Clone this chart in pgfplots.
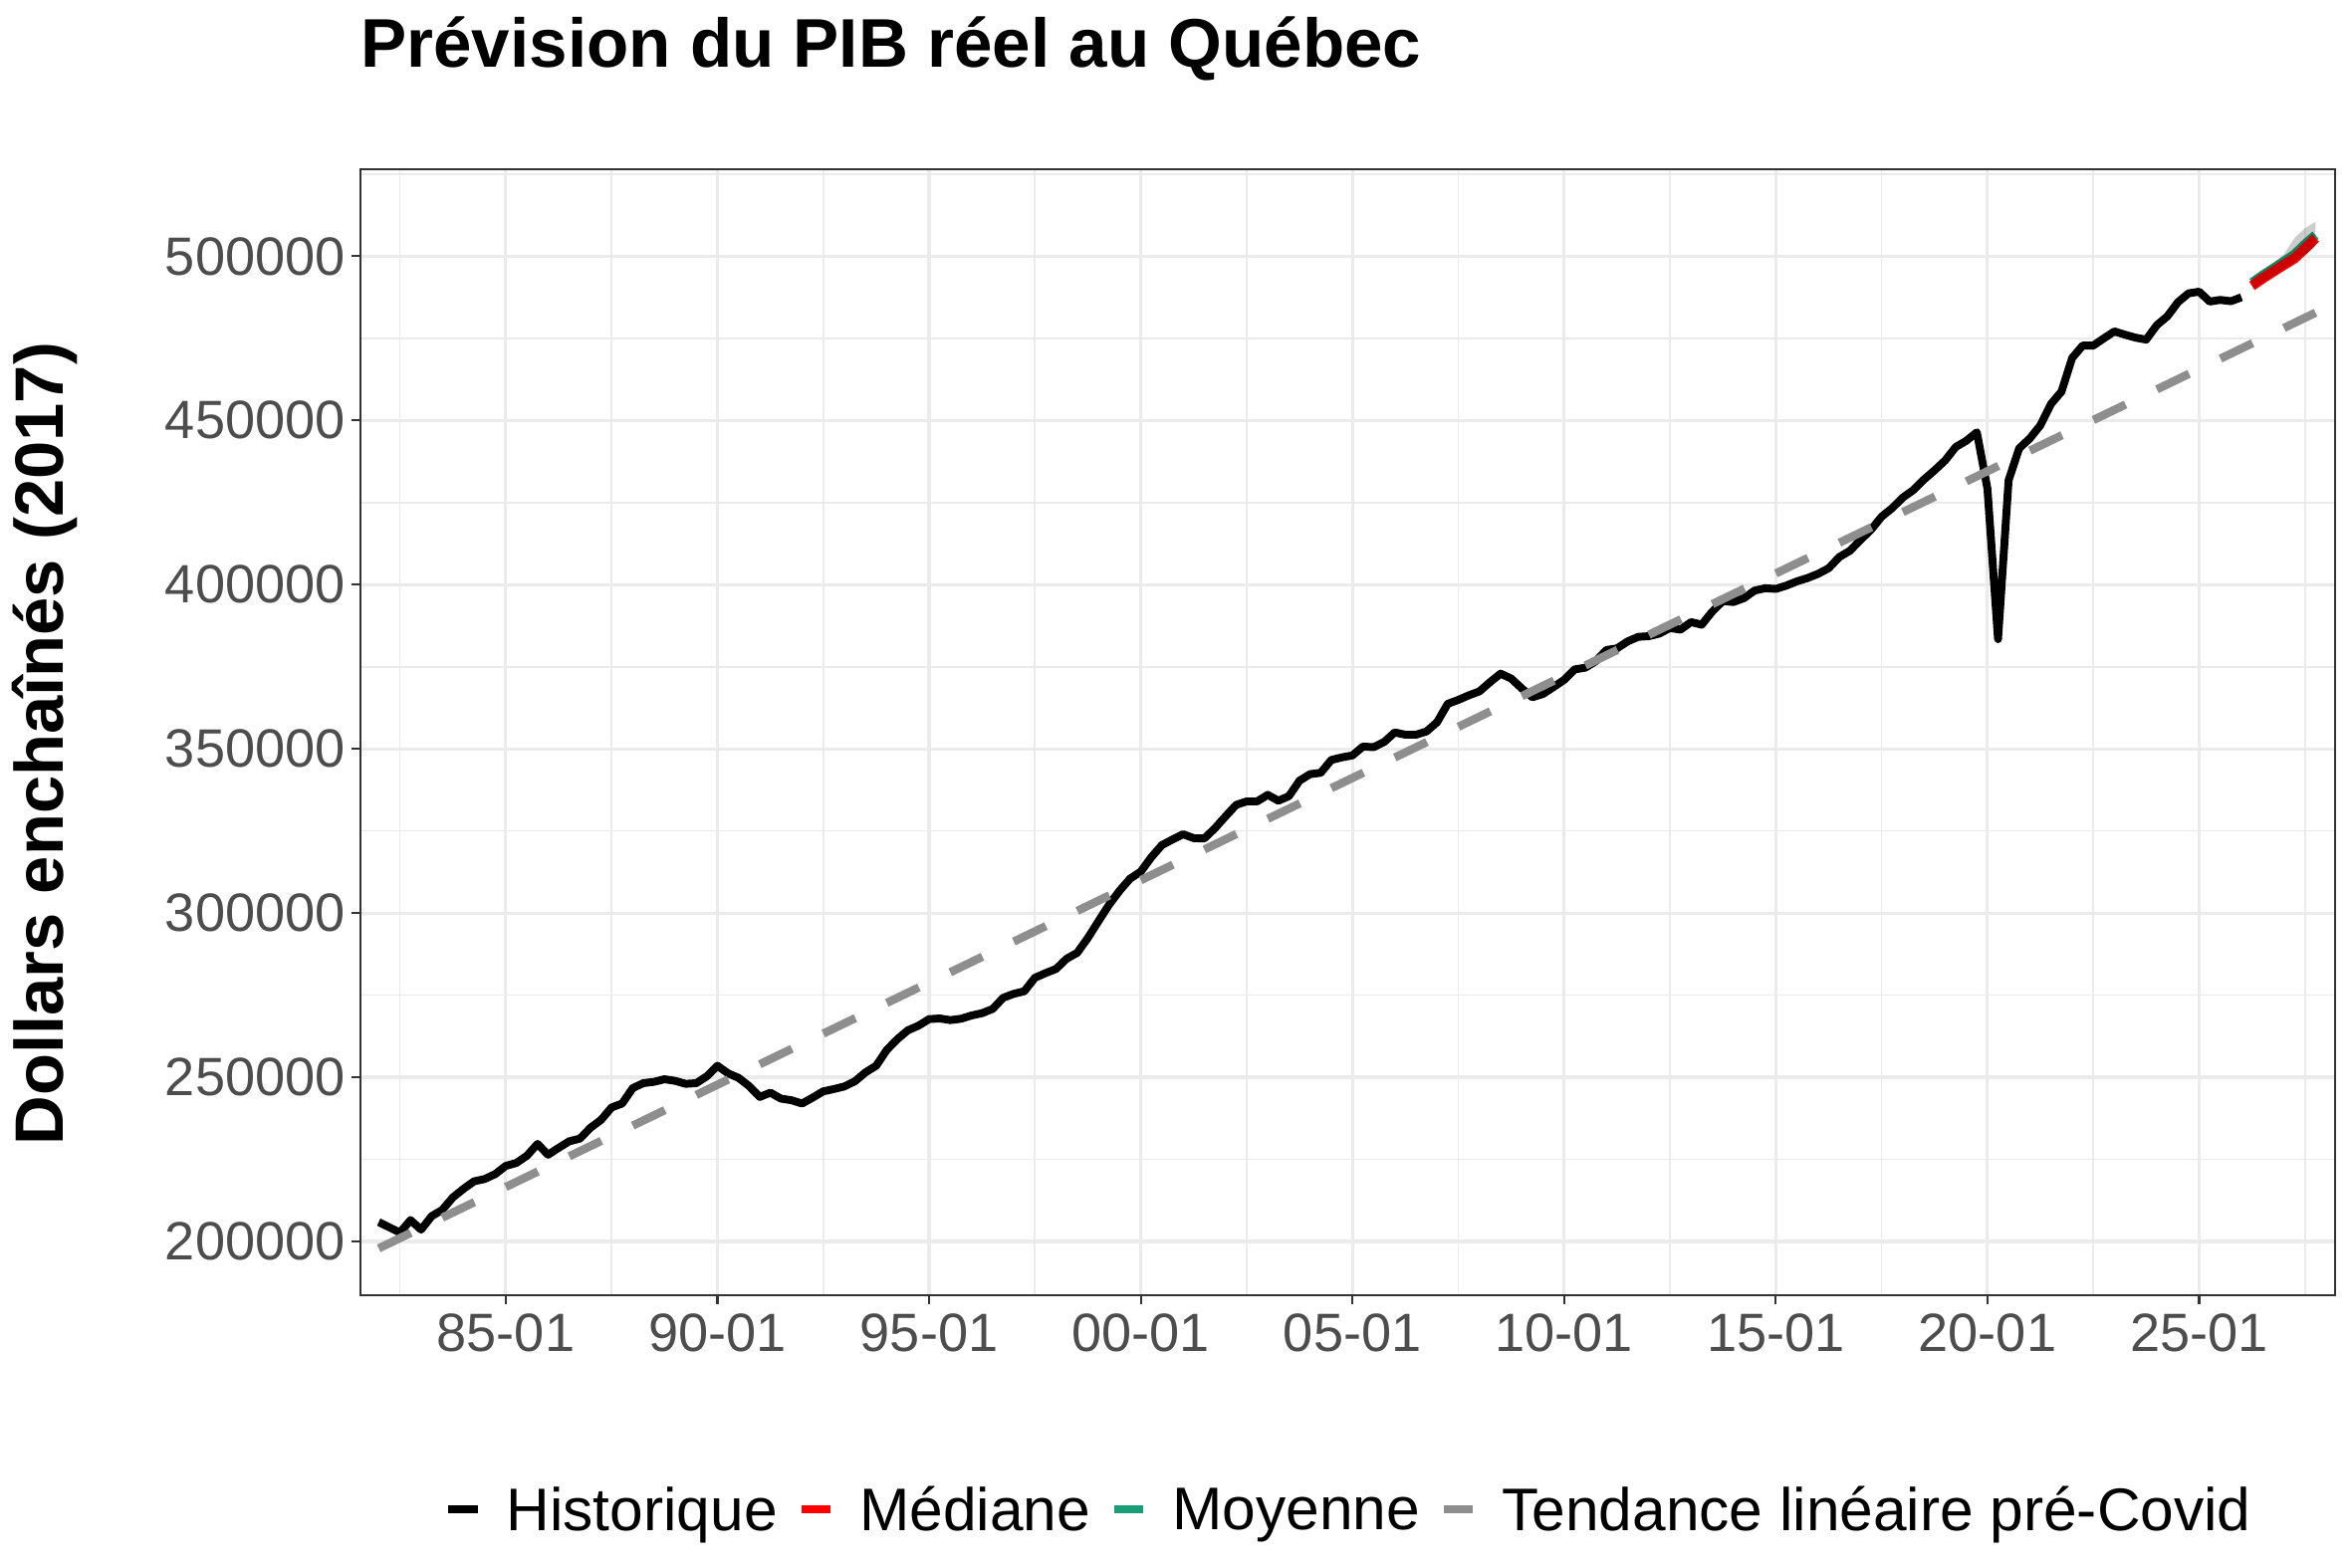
\documentclass[border=0pt]{standalone}
\usepackage{fontspec}
\setmainfont{Liberation Sans}
\usepackage{pgfplots}
\pgfplotsset{compat=1.18}
\definecolor{trendgray}{HTML}{8E8E8E}
\definecolor{gridgray}{HTML}{EBEBEB}
\definecolor{bordercol}{HTML}{333333}
\definecolor{ticktext}{HTML}{4D4D4D}
\definecolor{moygreen}{HTML}{1B9E77}
\definecolor{medred}{HTML}{FF0000}
\begin{document}
\begin{tikzpicture}
\useasboundingbox (-86.8pt,-65.6pt) rectangle (480.1pt,312.3pt);
\begin{axis}[
  at={(0pt,0pt)}, anchor=south west,
  scale only axis, width=476.1pt, height=271.5pt,
  xmin=1981.56, xmax=2028.22, ymin=183562, ymax=526484,
  scaled y ticks=false, scaled x ticks=false,
  xtick={1985,1990,1995,2000,2005,2010,2015,2020,2025},
  xticklabels={85-01,90-01,95-01,00-01,05-01,10-01,15-01,20-01,25-01},
  minor xtick={1982.5,1987.5,1992.5,1997.5,2002.5,2007.5,2012.5,2017.5,2022.5,2027.5},
  ytick={200000,250000,300000,350000,400000,450000,500000},
  yticklabels={200000,250000,300000,350000,400000,450000,500000},
  minor ytick={225000,275000,325000,375000,425000,475000,525000},
  grid=both,
  major grid style={gridgray, line width=0.75pt},
  minor grid style={gridgray, line width=0.4pt},
  axis line style={bordercol, line width=0.5pt},
  tick align=outside, major tick length=2pt, minor tick length=0pt,
  tick style={bordercol, line width=0.5pt},
  xtick pos=left, ytick pos=left,
  ticklabel style={font=\fontsize{13}{15}\selectfont, text=ticktext, inner sep=0pt},
  xticklabel style={anchor=north},
  yticklabel style={anchor=east},
  xticklabel shift=2.3pt, yticklabel shift=1.4pt,
  legend columns=-1,
  legend style={draw=none, fill=none, at={(0.5,-0.192)}, anchor=center,
    font=\fontsize{14.5}{17}\selectfont, nodes={inner sep=0pt},
    /tikz/every odd column/.append style={column sep=6pt},
    /tikz/every even column/.append style={column sep=4.8pt}},
  legend image code/.code={\draw[#1, line width=2pt, solid] (0pt,0.6pt) -- (7pt,0.6pt);},
]
\addlegendimage{black}\addlegendentry{Historique}
\addlegendimage{medred}\addlegendentry{Médiane}
\addlegendimage{moygreen}\addlegendentry{Moyenne}
\addlegendimage{trendgray}\addlegendentry{Tendance linéaire pré-Covid}

\addplot[black, line width=1.9pt, line join=round, forget plot] coordinates {
(1982.00,205900) (1982.25,204300) (1982.50,202700) (1982.75,206500)
(1983.00,203600) (1983.25,207700) (1983.50,209600) (1983.75,213400)
(1984.00,216000) (1984.25,218300) (1984.50,219000) (1984.75,220500)
(1985.00,223000) (1985.25,223900) (1985.50,226100) (1985.75,229700)
(1986.00,226400) (1986.25,228500) (1986.50,230500) (1986.75,231300)
(1987.00,234600) (1987.25,237000) (1987.50,240800) (1987.75,242000)
(1988.00,246700) (1988.25,248200) (1988.50,248600) (1988.75,249400)
(1989.00,248900) (1989.25,248000) (1989.50,248200) (1989.75,250300)
(1990.00,253500) (1990.25,251200) (1990.50,249800) (1990.75,247300)
(1991.00,244000) (1991.25,245300) (1991.50,243500) (1991.75,243000)
(1992.00,242000) (1992.25,243800) (1992.50,245700) (1992.75,246400)
(1993.00,247200) (1993.25,248800) (1993.50,251500) (1993.75,253500)
(1994.00,258300) (1994.25,261600) (1994.50,264300) (1994.75,265700)
(1995.00,267700) (1995.25,267900) (1995.50,267400) (1995.75,267800)
(1996.00,268800) (1996.25,269500) (1996.50,270800) (1996.75,274200)
(1997.00,275400) (1997.25,276200) (1997.50,280300) (1997.75,281700)
(1998.00,283000) (1998.25,286100) (1998.50,287900) (1998.75,292400)
(1999.00,297500) (1999.25,302500) (1999.50,306800) (1999.75,310500)
(2000.00,312600) (2000.25,317000) (2000.50,320700) (2000.75,322400)
(2001.00,324000) (2001.25,322800) (2001.50,322700) (2001.75,325800)
(2002.00,329400) (2002.25,332900) (2002.50,334000) (2002.75,334000)
(2003.00,336000) (2003.25,334200) (2003.50,335600) (2003.75,340300)
(2004.00,342300) (2004.25,342700) (2004.50,346600) (2004.75,347400)
(2005.00,348000) (2005.25,350700) (2005.50,350500) (2005.75,352100)
(2006.00,355000) (2006.25,354300) (2006.50,354300) (2006.75,355300)
(2007.00,358100) (2007.25,363700) (2007.50,364900) (2007.75,366300)
(2008.00,367500) (2008.25,370300) (2008.50,372900) (2008.75,371400)
(2009.00,368400) (2009.25,365700) (2009.50,366700) (2009.75,368800)
(2010.00,371000) (2010.25,374200) (2010.50,374700) (2010.75,376700)
(2011.00,380100) (2011.25,380600) (2011.50,382700) (2011.75,384100)
(2012.00,384300) (2012.25,385100) (2012.50,386800) (2012.75,386300)
(2013.00,388600) (2013.25,387800) (2013.50,391800) (2013.75,395000)
(2014.00,394700) (2014.25,395900) (2014.50,398200) (2014.75,398900)
(2015.00,398700) (2015.25,399700) (2015.50,401000) (2015.75,402000)
(2016.00,403300) (2016.25,405000) (2016.50,408400) (2016.75,410300)
(2017.00,413600) (2017.25,416700) (2017.50,420700) (2017.75,423300)
(2018.00,426500) (2018.25,428800) (2018.50,432000) (2018.75,434800)
(2019.00,437800) (2019.25,441900) (2019.50,443800) (2019.75,446400)
(2020.00,429200) (2020.25,383400) (2020.50,431800) (2020.75,441500)
(2021.00,444500) (2021.25,448500) (2021.50,455000) (2021.75,458800)
(2022.00,469000) (2022.25,472800) (2022.50,472800) (2022.75,475000)
(2023.00,477100) (2023.25,476100) (2023.50,475200) (2023.75,474600)
(2024.00,479000) (2024.25,481700) (2024.50,486000) (2024.75,488700)
(2025.00,489200) (2025.25,486200) (2025.50,486700) (2025.75,486300)
(2026.00,487500)
};
\addplot[moygreen, line width=2.3pt, forget plot] coordinates {
(2026.25,491900) (2026.50,494100) (2026.75,496200) (2027.00,498300)
(2027.25,500500) (2027.50,503600) (2027.75,506400)
};
\addplot[medred, line width=2.4pt, forget plot] coordinates {
(2026.25,491000) (2026.50,493200) (2026.75,495300) (2027.00,497300)
(2027.25,499300) (2027.50,502300) (2027.75,505500)
};
\addplot[trendgray, line width=2pt, dash pattern=on 8.6pt off 8.4pt, forget plot] coordinates {
(1982.00,197900) (2027.75,482800)
};
\addplot[draw=none, fill=black, fill opacity=0.2, forget plot] coordinates {
(2026.25,493600) (2026.50,496000) (2026.75,498000) (2027.00,500500)
(2027.25,505500) (2027.50,508500) (2027.75,510500)
(2027.75,503000) (2027.50,500500) (2027.25,498200) (2027.00,496000)
(2026.75,494000) (2026.50,491900) (2026.25,489800)
} -- cycle;
\end{axis}
\node[anchor=base west, inner sep=0pt, font=\fontsize{16.6}{20}\selectfont\bfseries] at (0pt,296pt) {Prévision du PIB réel au Québec};
\node[rotate=90, anchor=center, inner sep=0pt, font=\fontsize{16.5}{20}\selectfont\bfseries] at (-76pt,133pt) {Dollars enchaînés (2017)};
\end{tikzpicture}
\end{document}
